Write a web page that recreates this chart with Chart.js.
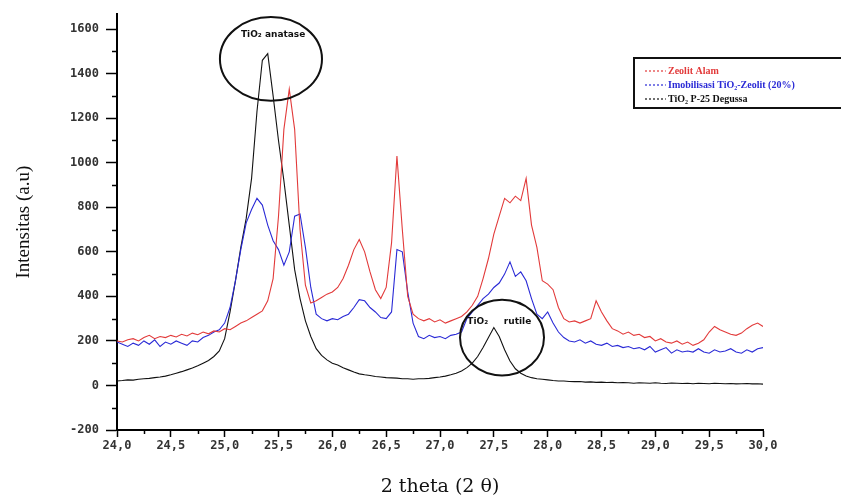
<!DOCTYPE html>
<html>
<head>
<meta charset="utf-8">
<script src="https://cdn.jsdelivr.net/npm/chart.js@4.4.1/dist/chart.umd.min.js"></script>
<style>
    html, body { margin: 0; padding: 0; background: #fff; }
    #wrap { width: 841px; height: 503px; position: relative; }
</style>
</head>
<body>
<div id="wrap"><canvas id="xrdChart"></canvas></div>
<script>
// ===== XRD PATTERN DATA =====

// 2 theta grid: 24,00 .. 30,00 in steps of 0,05
const thetaStart = 24.0;
const thetaStep = 0.05;

// Zeolit alam (red)
const zeolitAlam = [
    200, 195, 205, 210, 200, 215, 225, 210, 220, 215,
    225, 218, 230, 222, 235, 228, 240, 232, 245, 240,
    255, 250, 265, 280, 290, 305, 320, 335, 380, 480,
    760, 1150, 1330, 1150, 700, 450, 370, 380, 395, 410,
    420, 440, 480, 540, 610, 655, 600, 510, 430, 390,
    440, 640, 1030, 700, 400, 320, 300, 290, 300, 285,
    295, 280, 290, 300, 310, 330, 360, 400, 480, 570,
    680, 760, 840, 820, 850, 830, 930, 720, 620, 470,
    455, 430, 350, 300, 285, 290, 280, 290, 300, 380,
    330, 290, 255, 245, 230, 240, 225, 230, 215, 220,
    200, 210, 195, 190, 200, 185, 195, 180, 190, 205,
    240, 265, 250, 240, 230, 225, 235, 255, 270, 280,
    265
];

// Imobilisasi TiO2-Zeolit 20% (blue)
const tiO2Zeolit = [
    195, 185, 175, 190, 180, 200, 185, 205, 175, 195,
    185, 200, 190, 180, 200, 195, 215, 225, 240, 250,
    280, 350, 470, 610, 730, 790, 840, 810, 720, 650,
    610, 540, 600, 760, 770, 620, 440, 320, 300, 290,
    300, 295, 310, 320, 350, 385, 380, 350, 330, 305,
    300, 330, 610, 600, 420, 280, 220, 210, 225, 215,
    220, 210, 225, 230, 240, 300, 330, 360, 390, 410,
    440, 460, 500, 555, 490, 510, 470, 390, 320, 300,
    330, 280, 240, 215, 200, 195, 205, 190, 200, 185,
    180, 190, 175, 180, 170, 175, 165, 170, 160, 175,
    150, 160, 170, 145, 160, 150, 155, 150, 165, 150,
    145, 160, 150, 155, 165, 150, 145, 160, 150, 165,
    170
];

// TiO2 P-25 Degussa (black)
const tiO2P25 = [
    20, 22, 25, 24, 28, 30, 32, 35, 38, 42,
    48, 55, 62, 70, 78, 88, 100, 112, 130, 155,
    210, 330, 470, 620, 750, 930, 1230, 1460, 1490, 1300,
    1100, 920, 720, 520, 390, 290, 220, 165, 135, 115,
    100, 92, 80, 70, 60, 52, 48, 45, 40, 38,
    35, 34, 33, 30, 30, 28, 30, 30, 32, 35,
    38, 42, 48, 55, 65, 80, 100, 130, 170, 215,
    260, 220, 160, 110, 75, 55, 42, 35, 30, 28,
    25, 22, 20, 20, 18, 17, 18, 15, 16, 14,
    15, 13, 14, 12, 13, 12, 10, 12, 11, 10,
    12, 10, 9, 11, 10, 9, 10, 8, 10, 9,
    8, 10, 9, 8, 9, 7, 8, 9, 7, 8,
    6
];

const seriesLabels = ['Zeolit Alam', 'Imobilisasi TiO\u2082-Zeolit (20%)', 'TiO\u2082 P-25 Degussa'];
const xTicks = [24.0, 24.5, 25.0, 25.5, 26.0, 26.5, 27.0, 27.5, 28.0, 28.5, 29.0, 29.5, 30.0];
const yTicks = [-200, 0, 200, 400, 600, 800, 1000, 1200, 1400, 1600];

// circled peaks (data units)
const peakMarks = [
    { x: 25.43, y: 1466, rx: 0.474, ry: 188 },
    { x: 27.576, y: 215, rx: 0.39, ry: 170 }
];
const peakTexts = [
    { text: 'TiO\u2082 anatase', x: 25.45, y: 1575 },
    { text: 'TiO\u2082', x: 27.35, y: 287 },
    { text: 'rutile', x: 27.72, y: 287 }
];

const colors = ['#e23a3a', '#2a2ad6', '#111111'];

function toPoints(values) {
    return values.map((v, i) => ({ x: +(thetaStart + i * thetaStep).toFixed(2), y: v }));
}

function fmtComma(v) {
    return Number(v).toFixed(1).replace('.', ',');
}

// minor ticks, circles and the boxed legend
const decorPlugin = {
    id: 'decor',
    afterDraw(chart) {
        const { ctx, chartArea, scales: { x, y } } = chart;
        ctx.save();

        // minor ticks
        ctx.strokeStyle = '#000';
        ctx.lineWidth = 1.5;
        for (let v = -100; v < 1650; v += 200) {
            const py = Math.round(y.getPixelForValue(v)) + 0.5;
            ctx.beginPath();
            ctx.moveTo(chartArea.left - 5, py);
            ctx.lineTo(chartArea.left, py);
            ctx.stroke();
        }
        for (let v = 24.25; v < 30; v += 0.5) {
            const px = Math.round(x.getPixelForValue(v)) + 0.5;
            ctx.beginPath();
            ctx.moveTo(px, chartArea.bottom);
            ctx.lineTo(px, chartArea.bottom + 4);
            ctx.stroke();
        }

        // ellipses round the peaks
        ctx.lineWidth = 2;
        ctx.strokeStyle = '#111';
        peakMarks.forEach(m => {
            const cx = x.getPixelForValue(m.x);
            const cy = y.getPixelForValue(m.y);
            const rx = Math.abs(x.getPixelForValue(m.x + m.rx) - cx);
            const ry = Math.abs(y.getPixelForValue(m.y + m.ry) - cy);
            ctx.beginPath();
            ctx.ellipse(cx, cy, rx, ry, 0, 0, Math.PI * 2);
            ctx.stroke();
        });
        ctx.fillStyle = '#111';
        ctx.font = 'bold 9px "DejaVu Sans"';
        ctx.textAlign = 'center';
        ctx.textBaseline = 'middle';
        peakTexts.forEach(t => {
            ctx.fillText(t.text, x.getPixelForValue(t.x), y.getPixelForValue(t.y));
        });

        // legend box
        ctx.lineWidth = 2;
        ctx.strokeStyle = '#111';
        ctx.strokeRect(634, 58, 220, 50);
        ctx.font = 'bold 10px "Liberation Serif"';
        ctx.textAlign = 'left';
        chart.data.datasets.forEach((ds, i) => {
            const ly = 71 + i * 14;
            ctx.strokeStyle = ds.borderColor;
            ctx.lineWidth = 1.2;
            ctx.setLineDash([2, 2]);
            ctx.beginPath();
            ctx.moveTo(645, ly);
            ctx.lineTo(666, ly);
            ctx.stroke();
            ctx.setLineDash([]);
            ctx.fillStyle = ds.borderColor;
            ctx.fillText(ds.label, 668, ly);
        });
        ctx.restore();
    }
};

const tickFont = { family: '"DejaVu Sans Mono"', size: 12, weight: 'bold' };

new Chart(document.getElementById('xrdChart'), {
    type: 'line',
    data: {
        datasets: [
            { label: seriesLabels[0], data: toPoints(zeolitAlam), borderColor: colors[0] },
            { label: seriesLabels[1], data: toPoints(tiO2Zeolit), borderColor: colors[1] },
            { label: seriesLabels[2], data: toPoints(tiO2P25), borderColor: colors[2] }
        ]
    },
    options: {
        responsive: true,
        maintainAspectRatio: false,
        animation: false,
        parsing: false,
        elements: {
            line: { borderWidth: 1.1, tension: 0 },
            point: { radius: 0 }
        },
        layout: { padding: { top: 12, right: 78, left: 0, bottom: 0 } },
        plugins: {
            legend: { display: false },
            tooltip: { enabled: false }
        },
        scales: {
            x: {
                type: 'linear',
                min: 24,
                max: 30,
                afterBuildTicks: s => { s.ticks = xTicks.map(v => ({ value: v })); },
                afterFit: s => { s.height = 73; },
                ticks: {
                    color: '#333',
                    font: tickFont,
                    padding: 2,
                    maxRotation: 0,
                    autoSkip: false,
                    callback: v => fmtComma(v)
                },
                grid: { drawOnChartArea: false, tickLength: 7, tickColor: '#000', tickWidth: 1.5 },
                border: { color: '#000', width: 2 },
                title: {
                    display: true,
                    text: '2 theta (2 \u03b8)',
                    font: { family: '"DejaVu Serif"', size: 19 },
                    color: '#111',
                    padding: { top: 0, bottom: 5 }
                }
            },
            y: {
                min: -200,
                max: 1667,
                afterBuildTicks: s => { s.ticks = yTicks.map(v => ({ value: v })); },
                afterFit: s => { s.width = 117; },
                ticks: {
                    color: '#333',
                    font: tickFont,
                    padding: 7,
                    autoSkip: false,
                    callback: v => String(v)
                },
                grid: { drawOnChartArea: false, tickLength: 11, tickColor: '#000', tickWidth: 1.5 },
                border: { color: '#000', width: 2 },
                title: {
                    display: true,
                    text: 'Intensitas (a.u)',
                    font: { family: '"Liberation Serif"', size: 19 },
                    color: '#111',
                    padding: { top: 13, bottom: 0 }
                }
            }
        }
    },
    plugins: [decorPlugin]
});
</script>
</body>
</html>
